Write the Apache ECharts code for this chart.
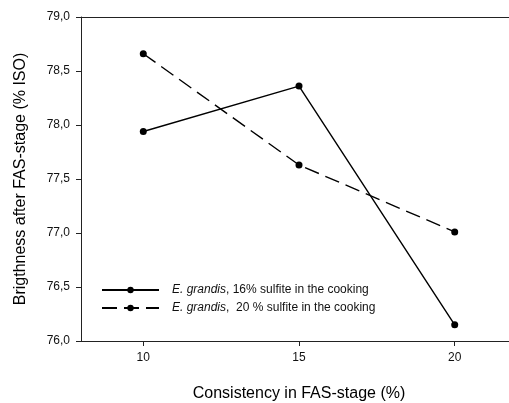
<!DOCTYPE html>
<html>
<head>
<meta charset="utf-8">
<script src="https://cdn.jsdelivr.net/npm/echarts@6/dist/echarts.min.js"></script>
<style>html,body{margin:0;padding:0;background:#fff;}#c{width:509px;height:403px;}</style>
</head>
<body>
<div id="c"></div>
<script>
const consistency = [10, 15, 20];
const sulfite16 = [77.94, 78.36, 76.15];
const sulfite20 = [78.66, 77.63, 77.01];
const xTicks = [10, 15, 20];
const seriesNames = ['E. grandis, 16% sulfite in the cooking', 'E. grandis,  20 % sulfite in the cooking'];

const chart = echarts.init(document.getElementById('c'), null, {renderer: 'canvas'});
const font = '"Liberation Sans", Arial, sans-serif';
const axisColor = '#222';
function pairs(xs, ys) { return xs.map((x, i) => [x, ys[i]]); }
chart.setOption({
  animation: false,
  backgroundColor: '#fff',
  textStyle: {fontFamily: font},
  grid: {left: 81, top: 17, width: 436, height: 324, show: false,
    outerBoundsMode: 'none', containLabel: false},
  xAxis: [{
    type: 'value', min: 8, max: 22,
    name: 'Consistency in FAS-stage (%)', nameLocation: 'middle', nameGap: 45,
    nameTextStyle: {fontSize: 16, color: '#000', fontFamily: font},
    axisLine: {show: true, lineStyle: {color: axisColor, width: 1}},
    axisTick: {show: true, customValues: xTicks, length: 5, inside: false, lineStyle: {color: axisColor}},
    axisLabel: {customValues: xTicks, fontSize: 12, color: '#111', margin: 11, fontFamily: font},
    splitLine: {show: false}
  }, {
    type: 'value', min: 8, max: 22, position: 'top',
    axisLine: {show: true, onZero: false, lineStyle: {color: axisColor, width: 1}},
    axisTick: {show: false}, axisLabel: {show: false}, splitLine: {show: false}
  }],
  yAxis: {
    type: 'value', min: 76, max: 79, interval: 0.5,
    name: 'Brigthness after FAS-stage (% ISO)', nameLocation: 'middle', nameGap: 52,
    nameTextStyle: {fontSize: 16, color: '#000', fontFamily: font},
    axisLine: {show: true, lineStyle: {color: axisColor, width: 1}},
    axisTick: {show: true, length: 5, inside: false, lineStyle: {color: axisColor}},
    axisLabel: {fontSize: 12, color: '#111', margin: 11, fontFamily: font,
      formatter: v => v.toFixed(1).replace('.', ',')},
    splitLine: {show: false}
  },
  legend: {
    orient: 'vertical', left: 96, top: 279, itemWidth: 57, itemHeight: 8, itemGap: 6,
    data: seriesNames,
    formatter: function (name) {
      const rest = name.replace('E. grandis', '');
      return '{i|E. grandis}{n|' + rest + '}';
    },
    textStyle: {fontSize: 12, color: '#111', fontFamily: font, padding: [0, 0, 0, 8],
      rich: {i: {fontStyle: 'italic', fontSize: 12, color: '#111', fontFamily: font},
             n: {fontSize: 12, color: '#111', fontFamily: font}}}
  },
  series: [
    {
      name: seriesNames[0], type: 'line', data: pairs(consistency, sulfite16),
      symbol: 'circle', symbolSize: 7,
      itemStyle: {color: '#000'},
      lineStyle: {color: '#000', width: 1.4, type: 'solid'}
    },
    {
      name: seriesNames[1], type: 'line', data: pairs(consistency, sulfite20),
      symbol: 'circle', symbolSize: 7,
      itemStyle: {color: '#000'},
      lineStyle: {color: '#000', width: 1.4, type: [15, 7]}
    }
  ]
});
</script>
</body>
</html>
